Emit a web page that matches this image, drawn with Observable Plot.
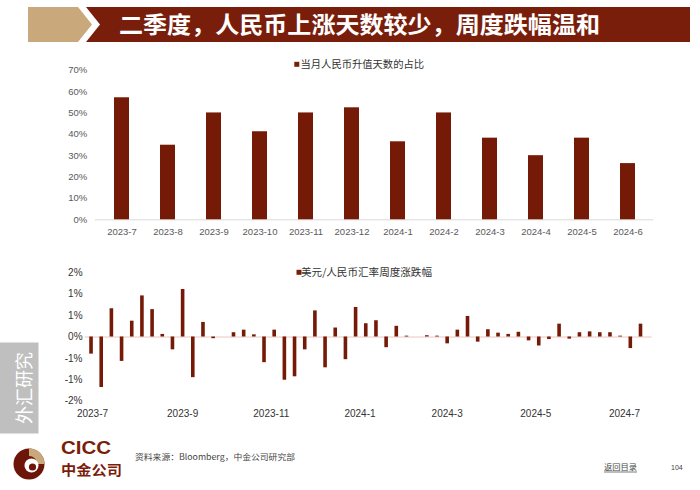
<!DOCTYPE html>
<html><head><meta charset="utf-8">
<script src="https://cdn.jsdelivr.net/npm/d3@7"></script>
<script src="https://cdn.jsdelivr.net/npm/@observablehq/plot@0.6"></script>
<style>
body{margin:0;background:#fff;}
#page{position:relative;width:700px;height:490px;overflow:hidden;font-family:"Liberation Sans",Arial,sans-serif;background:#fff;}
.abs{position:absolute;}
#deco{pointer-events:none;z-index:2;}
</style></head><body>
<div id="page">
<div id="top" class="abs" style="left:0;top:55px"></div>
<div id="bot" class="abs" style="left:0;top:262px"></div>
<svg id="deco" class="abs" style="left:0;top:0" width="700" height="490">
  <!-- banner -->
  <polygon points="28,7 78,7 92,24.5 78,42 28,42" fill="#c9a97c"/>
  <polygon points="86,7 690,7 690,42 86,42 100,24.5" fill="#7a1e0c"/>
  <text x="119" y="33" fill="#fff" font-family="Noto Sans CJK SC" font-weight="bold" font-size="23" textLength="481" lengthAdjust="spacingAndGlyphs">二季度，人民币上涨天数较少，周度跌幅温和</text>
  <!-- legends -->
  <rect x="294.3" y="61.8" width="5" height="5" fill="#7a1e0c"/>
  <text x="300.5" y="68" fill="#333" font-family="Noto Sans CJK SC" font-size="10.3">当月人民币升值天数的占比</text>
  <rect x="296.5" y="269.8" width="5" height="5" fill="#7a1e0c"/>
  <text x="301" y="276" fill="#333" font-family="Noto Sans CJK SC" font-size="10.3" textLength="131" lengthAdjust="spacingAndGlyphs">美元/人民币汇率周度涨跌幅</text>
  <!-- side box -->
  <rect x="0" y="342.5" width="38.5" height="91" fill="#bfbfbf"/>
  <text transform="translate(30.5,388) rotate(-90)" text-anchor="middle" fill="#fff" font-family="Noto Sans CJK SC" font-size="18">外汇研究</text>
  <!-- logo -->
  <circle cx="29" cy="464" r="15.5" fill="#6e1509"/>
  <path d="M29,448.5 A15.5,15.5 0 0 1 44.5,464 L37,464 A8,8 0 0 0 29,456 Z" fill="#c9a97c"/>
  <circle cx="31.5" cy="465.5" r="7" fill="#fff"/>
  <circle cx="32.5" cy="467" r="3.6" fill="#6e1509"/>
  <text x="61" y="453.5" fill="#7a1e0c" font-family="Liberation Sans" font-weight="bold" font-size="18" textLength="50" lengthAdjust="spacingAndGlyphs">CICC</text>
  <text x="61" y="474.5" fill="#7a1e0c" font-family="Noto Sans CJK SC" font-weight="bold" font-size="14" textLength="61" lengthAdjust="spacingAndGlyphs">中金公司</text>
  <!-- footer -->
  <text x="135" y="460" fill="#444" font-family="Noto Sans CJK SC" font-size="8.3" textLength="160" lengthAdjust="spacingAndGlyphs">资料来源：Bloomberg，中金公司研究部</text>
  <text x="604" y="470" fill="#444" font-family="Noto Sans CJK SC" font-size="8" textLength="33" lengthAdjust="spacingAndGlyphs">返回目录</text>
  <line x1="604" y1="472" x2="637" y2="472" stroke="#444" stroke-width="0.7"/>
  <text x="671" y="470" fill="#444" font-family="Liberation Sans" font-size="7">104</text>
</svg>
</div>
<script>
// ---------- data: monthly share of RMB appreciation days (%) ----------
const months = ["2023-7","2023-8","2023-9","2023-10","2023-11","2023-12","2024-1","2024-2","2024-3","2024-4","2024-5","2024-6"];
const upShare = [57.1, 34.9, 50.0, 41.2, 50.0, 52.4, 36.5, 50.0, 38.2, 30.0, 38.2, 26.3];
const topTicks = [0,10,20,30,40,50,60,70];
const topTickLabels = ["0%","10%","20%","30%","40%","50%","60%","70%"];

// ---------- data: weekly USD/CNY change (%) ----------
const firstWeek = "2023-06-30";
const weeklyChange = [
  -0.40,-1.18, 0.66,-0.57, 0.37, 0.96, 0.64, 0.06,-0.30, 1.11,
  -0.95, 0.34,-0.04, 0.00, 0.10, 0.16, 0.05,-0.60, 0.16,-1.01,
  -0.93,-0.30, 0.61,-0.72, 0.21,-0.53, 0.69, 0.31, 0.38,-0.25,
   0.25, 0.02, 0.00, 0.03, 0.02,-0.16, 0.16, 0.48,-0.12, 0.17,
   0.09, 0.06, 0.11,-0.09,-0.21,-0.06, 0.30,-0.05, 0.10, 0.12,
   0.10, 0.10, 0.02,-0.27, 0.30
];
const botTicks = [-1.5,-1,-0.5,0,0.5,1,1.5];
const botTickLabels = ["-2%","-1%","-1%","0%","1%","1%","2%"];
const xTickDates = ["2023-07-01","2023-09-01","2023-11-01","2024-01-01","2024-03-01","2024-05-01","2024-07-01"];
const xTickLabels = ["2023-7","2023-9","2023-11","2024-1","2024-3","2024-5","2024-7"];

const barColor = "#751a06";

// ---------- top chart ----------
const monthly = months.map((m, i) => ({month: m, value: upShare[i]}));
const topLab = new Map(topTicks.map((t, i) => [t, topTickLabels[i]]));
const topChart = Plot.plot({
  width: 700, height: 190,
  marginLeft: 95, marginRight: 47, marginTop: 14.7, marginBottom: 25.7,
  style: {background: "transparent", fontFamily: "Liberation Sans, Arial, sans-serif", fontSize: "9.5px", color: "#595959"},
  x: {domain: months, paddingInner: 0.684, paddingOuter: 0.342, tickSize: 0, tickPadding: 8, label: null},
  y: {domain: [0, 70], ticks: topTicks, tickFormat: d => topLab.get(d), tickSize: 0, tickPadding: 8.3, label: null},
  marks: [
    Plot.ruleY([0], {stroke: "#d9d9d9"}),
    Plot.barY(monthly, {x: "month", y: "value", fill: barColor})
  ]
});
document.getElementById("top").appendChild(topChart);

// ---------- bottom chart ----------
const start = new Date(firstWeek + "T00:00:00Z");
const weekly = weeklyChange.map((v, i) => ({date: d3.utcDay.offset(start, 7 * i), value: v}));
const xTicks = xTickDates.map(s => new Date(s + "T00:00:00Z"));
const xLab = new Map(xTicks.map((t, i) => [+t, xTickLabels[i]]));
const botLab = new Map(botTicks.map((t, i) => [t, botTickLabels[i]]));
const botChart = Plot.plot({
  width: 700, height: 160,
  marginLeft: 84.73, marginRight: 48.38, marginTop: 10.3, marginBottom: 21.3,
  style: {background: "transparent", fontFamily: "Liberation Sans, Arial, sans-serif", fontSize: "10px", color: "#333"},
  x: {type: "utc", domain: [new Date("2023-06-26T00:00:00Z"), new Date("2024-07-20T00:00:00Z")], ticks: xTicks, tickFormat: d => xLab.get(+d), tickSize: 0, tickPadding: 9, label: null},
  y: {domain: [-1.5, 1.5], ticks: botTicks, tickFormat: d => botLab.get(d), tickSize: 0, tickPadding: 2.7, label: null},
  marks: [
    Plot.ruleY([0], {stroke: "#ecc4bc", strokeWidth: 1}),
    Plot.ruleX(weekly, {x: "date", y1: 0, y2: "value", stroke: barColor, strokeWidth: 3.6})
  ]
});
document.getElementById("bot").appendChild(botChart);
</script>
</body></html>
